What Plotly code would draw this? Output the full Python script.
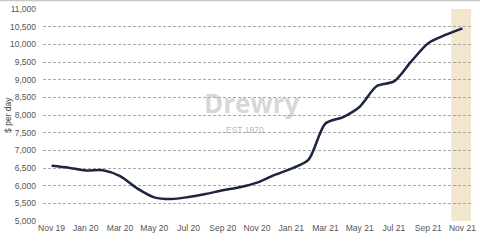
import plotly.graph_objects as go

months = ["Nov 19", "Dec 19", "Jan 20", "Feb 20", "Mar 20", "Apr 20", "May 20", "Jun 20",
          "Jul 20", "Aug 20", "Sep 20", "Oct 20", "Nov 20", "Dec 20", "Jan 21", "Feb 21",
          "Mar 21", "Apr 21", "May 21", "Jun 21", "Jul 21", "Aug 21", "Sep 21", "Oct 21", "Nov 21"]
rates = [6565, 6510, 6430, 6435, 6270, 5925, 5670, 5620, 5680, 5765, 5870, 5955, 6085,
         6300, 6480, 6730, 7760, 7935, 8235, 8820, 8950, 9510, 10030, 10265, 10450]
tick_idx = list(range(0, 25, 2))
tick_text = [months[i] for i in tick_idx]
y_ticks = list(range(5000, 11001, 500))

x = list(range(len(months)))

fig = go.Figure()
fig.add_shape(type="rect", xref="x", yref="y", x0=23.35, x1=24.5, y0=5000, y1=11000,
              fillcolor="#f3e6cf", line_width=0, layer="below")
fig.add_trace(go.Scatter(x=x, y=rates, mode="lines",
                         line=dict(color="#1c2541", width=2.5, shape="spline", smoothing=0.8),
                         hoverinfo="skip", showlegend=False))

fig.add_annotation(x=11.65, y=8350, xref="x", yref="y", text="<b>Drewry</b>",
                   showarrow=False, font=dict(family="Open Sans, Arial", size=26, color="rgba(175,175,175,0.5)"))
fig.add_annotation(x=11.3, y=7580, xref="x", yref="y", text="EST 1970",
                   showarrow=False, font=dict(family="Liberation Sans, Arial", size=8.5, color="rgba(170,170,170,0.85)"))
fig.add_annotation(x=-42, y=0.5, xref="x domain", yref="paper", xanchor="center", yanchor="middle",
                   text="$ per day", textangle=-90, showarrow=False,
                   font=dict(size=8.5, color="#444444"))
fig.layout.annotations[-1].update(xref="paper", x=-0.082)

fig.add_shape(type="line", xref="paper", yref="paper", x0=-0.2, x1=1.1, y0=1.0415, y1=1.0415,
              line=dict(color="#c8c8c8", width=2))

fig.update_layout(
    width=480, height=249,
    margin=dict(l=43, r=8.5, t=9, b=28, autoexpand=False),
    paper_bgcolor="white", plot_bgcolor="white",
    font=dict(family="Liberation Sans, Arial", size=8.5, color="#555555"),
    xaxis=dict(range=[-0.5, 24.5], tickmode="array", tickvals=tick_idx, ticktext=tick_text,
               showgrid=False, zeroline=False, showline=False, ticks="", ticklen=0,
               automargin=False),
    yaxis=dict(range=[5000, 11000], tickmode="array", tickvals=y_ticks,
               tickformat=",", showgrid=True, gridcolor="#a8a8a8", griddash="3px,2px", gridwidth=1,
               zeroline=False, showline=False, ticks="", ticklabelstandoff=6, automargin=False),
)
fig.write_html("out.html")
